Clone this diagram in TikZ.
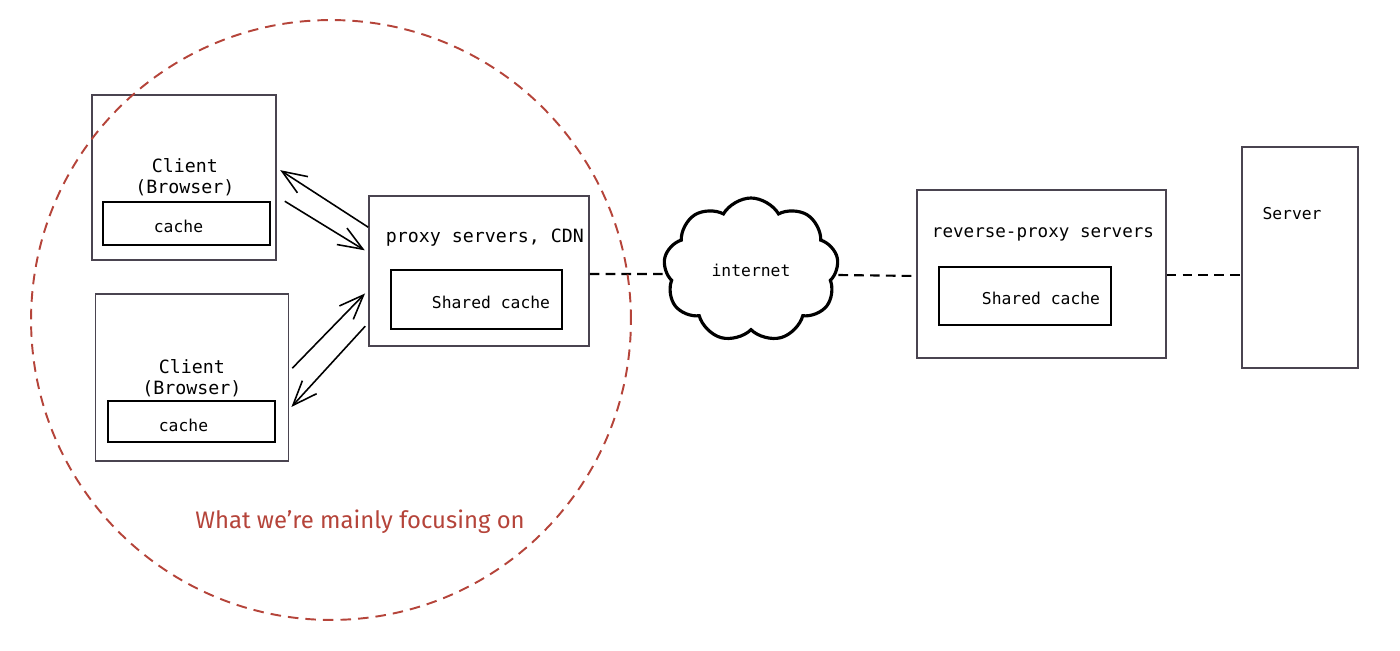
\documentclass[tikz,border=0pt]{standalone}
\usepackage{fontspec}
\setmainfont{Fira Sans}
\setmonofont{DejaVu Sans Mono}
\usetikzlibrary{arrows.meta,calc,positioning,shapes.symbols}
\definecolor{boxgray}{HTML}{4A4450}
\definecolor{focusred}{HTML}{B5443A}

\begin{document}
\begin{tikzpicture}[x=0.02cm, y=-0.02cm, >={Straight Barb[length=14pt,width=11pt]},
	outerbox/.style={draw=boxgray, line width=0.9pt, inner sep=0pt},
	cachebox/.style={draw=black, line width=1.1pt, inner sep=0pt},
	boxtext/.style={font=\ttfamily\fontsize{10.4}{12}\selectfont, align=center, inner sep=0pt},
	smalltext/.style={font=\ttfamily\fontsize{9.3}{11}\selectfont, inner sep=0pt},
	link/.style={->, line width=0.9pt, shorten >=1pt},
	wire/.style={dash pattern=on 5.5pt off 3.5pt, line width=1.2pt},
	focus/.style={draw=focusred, line width=1.1pt, dash pattern=on 6pt off 4pt}]
	\useasboundingbox (0,0) rectangle (1400,651);

	% Clients {client1, client2}
	\node [outerbox, minimum width=3.68cm, minimum height=3.3cm]	(client1) at (184,177.5) {};
	\node [boxtext]													(client1 text) at (185,177) {Client\\(Browser)};
	\node [cachebox, minimum width=3.34cm, minimum height=0.86cm]	(cache1) at (186.5,223.5) {};
	\node [smalltext]												(cache1 text) at (178.5,226) {cache};

	\node [outerbox, minimum width=3.86cm, minimum height=3.34cm]	(client2) at (192,377.5) {};
	\node [boxtext]													(client2 text) at (192,378) {Client\\(Browser)};
	\node [cachebox, minimum width=3.34cm, minimum height=0.82cm]	(cache2) at (191.5,421.5) {};
	\node [smalltext]												(cache2 text) at (183.5,425) {cache};

	% Proxy, cloud, reverse proxy, server
	\node [outerbox, minimum width=4.4cm, minimum height=3.0cm]		(proxy) at (479,271) {};
	\node [boxtext]													(proxy text) at (485,238) {proxy servers, CDN};
	\node [cachebox, minimum width=3.42cm, minimum height=1.18cm]	(shared1) at (476.5,299.5) {};
	\node [smalltext]												(shared1 text) at (491,302) {Shared cache};

	\node [cloud, draw, line width=1.8pt, cloud puffs=9, cloud puff arc=120, aspect=1.2,
		minimum width=3.5cm, minimum height=2.88cm, smalltext]		(cloud) at (751,270) {internet};

	\node [outerbox, minimum width=4.98cm, minimum height=3.36cm]	(rproxy) at (1041.5,274) {};
	\node [boxtext, font=\ttfamily\fontsize{10}{12}\selectfont]	(rproxy text) at (1043,234) {reverse-proxy servers};
	\node [cachebox, minimum width=3.44cm, minimum height=1.16cm]	(shared2) at (1025,296) {};
	\node [smalltext]												(shared2 text) at (1041,298) {Shared cache};

	\node [outerbox, minimum width=2.32cm, minimum height=4.42cm]	(server) at (1300,257.5) {};
	\node [smalltext]												(server text) at (1292,214) {Server};

	% Paths
	\draw [link] ($(proxy.north west)+(0,32)$)    -- ($(client1.north east)+(2,75)$);
	\draw [link] ($(client1.north east)+(8,107)$) -- ($(proxy.north west)+(-2,56)$);
	\draw [link] ($(client2.north east)+(3,75)$)  -- ($(proxy.north west)+(-2,97)$);
	\draw [link] ($(proxy.north west)+(-3,131)$)  -- ($(client2.north east)+(1,115)$);

	\draw [wire] ($(proxy.east)+(0,3)$) -- ($(cloud.west)+(0,4)$);
	\draw [wire] ($(cloud.east)+(0,5)$) -- ($(rproxy.west)+(0,2)$);
	\draw [wire] ($(rproxy.east)+(0,1)$) -- ($(rproxy.east -| server.west)+(0,1)$);

	% What we focus on
	\draw [focus] (331,320) circle [radius=6cm];
	\node [text=focusred, font=\fontsize{13.6}{15}\selectfont, inner sep=0pt] (focus text) at (360,522) {What we’re mainly focusing on};
\end{tikzpicture}
\end{document}
